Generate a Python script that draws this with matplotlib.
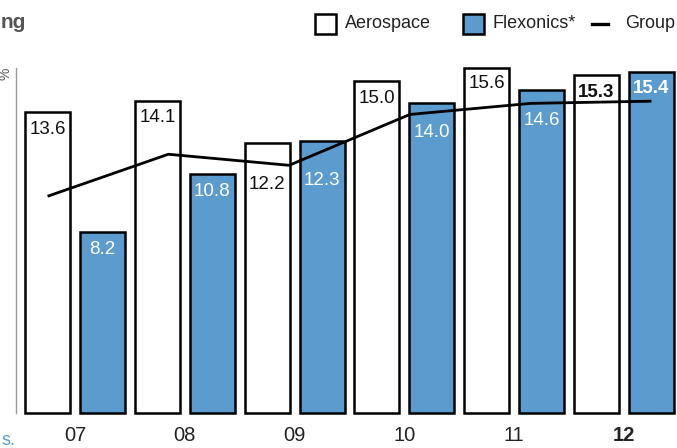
import matplotlib
matplotlib.use('Agg')
import matplotlib.pyplot as plt
from matplotlib.patches import Rectangle
from matplotlib.lines import Line2D
import numpy as np

plt.rcParams['font.family'] = ['Liberation Sans', 'DejaVu Sans']

years = ['07', '08', '09', '10', '11', '12']
aerospace = [13.6, 14.1, 12.2, 15.0, 15.6, 15.3]
flexonics = [8.2, 10.8, 12.3, 14.0, 14.6, 15.4]
group = [9.8, 11.7, 11.2, 13.5, 14.0, 14.1]

# how far (px) each value label sits below its bar top, so the group line stays clear
aero_drop = [9, 8, 33, 9, 7, 9]
flex_drop = [9, 9, 31, 21, 22, 8]

blue = '#5b9bcd'
W, H = 677, 448

fig = plt.figure(figsize=(W / 100, H / 100), dpi=100)
ax = fig.add_axes([16 / W, 35 / H, (W - 16) / W, (413 - 68) / H])

x = np.arange(len(years))
bw = 0.41
last = len(years) - 1

ax.bar(x - 0.25, aerospace, bw, color='white', edgecolor='black', linewidth=1.8, clip_on=False, zorder=2)
ax.bar(x + 0.25, flexonics, bw, color=blue, edgecolor='black', linewidth=1.8, clip_on=False, zorder=2)

# group line runs from the first aerospace bar to the last flexonics bar
gx = np.linspace(x[0] - 0.25, x[-1] + 0.25, len(group))
ax.plot(gx, group, color='black', linewidth=2.0, zorder=4, solid_capstyle='butt')

for i in range(len(years)):
    wt = 'bold' if i == last else 'normal'
    ax.annotate(f'{aerospace[i]:.1f}', (x[i] - 0.25, aerospace[i]), xytext=(0, -aero_drop[i] * 0.72),
                textcoords='offset points', ha='center', va='top', fontsize=13.5,
                color='#111111', fontweight=wt, zorder=5)
    ax.annotate(f'{flexonics[i]:.1f}', (x[i] + 0.25, flexonics[i]), xytext=(0, -flex_drop[i] * 0.72),
                textcoords='offset points', ha='center', va='top', fontsize=13.5,
                color='white', fontweight=wt, zorder=5)

ax.set_xlim((16 - 75) / 109.8, (W - 75) / 109.8)
ax.set_ylim(0, 15.6)
ax.set_xticks(x)
ax.set_xticklabels(years, fontsize=14.5, color='#222222')
ax.get_xticklabels()[last].set_fontweight('bold')
ax.tick_params(axis='x', length=0, pad=9)
ax.set_yticks([])
for s in ['top', 'right', 'bottom']:
    ax.spines[s].set_visible(False)
ax.spines['left'].set_color('#999999')
ax.spines['left'].set_linewidth(1.0)
ax.patch.set_alpha(0)

# legend drawn by hand along the top
def px(xp, yp):
    return xp / W, 1 - yp / H

fig.patches.append(Rectangle(px(315, 34), 21 / W, 20 / H, transform=fig.transFigure,
                             facecolor='white', edgecolor='black', linewidth=1.8))
fig.text(*px(345, 24), 'Aerospace', fontsize=13, color='#222222', va='center')
fig.patches.append(Rectangle(px(463, 34), 21 / W, 20 / H, transform=fig.transFigure,
                             facecolor=blue, edgecolor='black', linewidth=1.8))
fig.text(*px(493, 24), 'Flexonics*', fontsize=13, color='#222222', va='center')
fig.lines.append(Line2D([592 / W, 608 / W], [1 - 24 / H, 1 - 24 / H], transform=fig.transFigure,
                        color='black', linewidth=2.4))
fig.text(*px(625, 24), 'Group', fontsize=13, color='#222222', va='center')

fig.text(*px(1, 28), 'ng', fontsize=15, fontweight='bold', color='#555555', ha='left', va='baseline')
fig.text(*px(6, 74), '%', fontsize=10, color='#555555', rotation=90, ha='center', va='center')
fig.text(*px(1, 445), 's.', fontsize=13, color=blue, ha='left', va='baseline')

fig.savefig('out.png', dpi=100)
